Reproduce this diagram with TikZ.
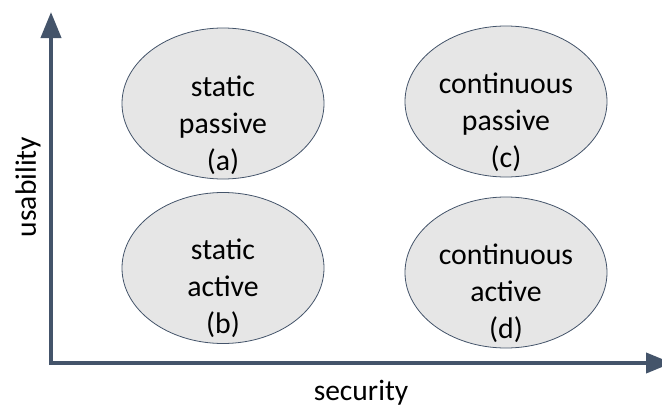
\documentclass[tikz,border=0pt]{standalone}
\usepackage{fontspec}
\setmainfont{Carlito}
\usetikzlibrary{arrows.meta,shapes.geometric}
\definecolor{axiscol}{HTML}{44546A}
\definecolor{ellfill}{HTML}{E6E6E6}
\begin{document}
\begin{tikzpicture}[x=1pt,y=-1pt,
  quad/.style={ellipse, draw=axiscol, line width=0.8pt, fill=ellfill, minimum width=202pt, minimum height=151pt, inner sep=0pt},
  quadtext/.style={align=center, font=\fontsize{29.8pt}{37pt}\selectfont, text=black},
  axislabel/.style={font=\fontsize{29.5pt}{36pt}\selectfont, text=black},
  axisline/.style={draw=axiscol, line width=4pt, -{Triangle[length=26pt,width=20pt]}}]
\useasboundingbox (0,0) rectangle (662,407);
\node[quad] (a) at (223,103.5) {};
\node[quad] (b) at (223,268) {};
\node[quad] (c) at (506,101.5) {};
\node[quad] (d) at (506,272.5) {};
\node[quadtext] (at) at (223,125) {static\\passive\\(a)};
\node[quadtext] (bt) at (223,288) {static\\active\\(b)};
\node[quadtext] (ct) at (506,122) {continuous\\passive\\(c)};
\node[quadtext] (dt) at (506,293) {continuous\\active\\(d)};
\coordinate (o) at (49,363);
\coordinate (ytip) at (51,12);
\coordinate (xtip) at (672,363);
\draw[axisline] (51,365) -- (ytip);
\draw[axisline] (o) -- (xtip);
\node[axislabel, rotate=90] (ul) at (28,187) {usability};
\node[axislabel] (sl) at (361,393) {security};
\end{tikzpicture}
\end{document}
